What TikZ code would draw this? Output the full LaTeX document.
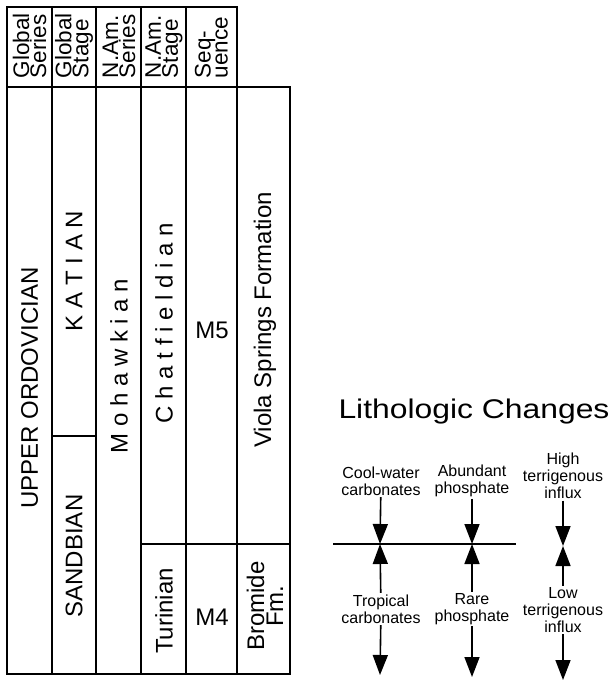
\documentclass[tikz,border=0pt]{standalone}
\usepackage{fontspec}
\setmainfont{Liberation Sans}
\usetikzlibrary{arrows.meta}

\begin{document}
\begin{tikzpicture}[x=1pt, y=-1pt, line width=1.6pt]
    \tikzstyle{every node} = [inner sep=1pt]
    \tikzstyle{big} = [font=\fontsize{24}{24}\selectfont]
    \tikzstyle{head} = [rotate=90, anchor=west, align=left, font=\fontsize{22.5}{17}\selectfont]
    \tikzstyle{small} = [align=center, font=\fontsize{16}{17}\selectfont]
    \tikzstyle{arr} = [-{Triangle[length=20pt, width=15pt]}]

    \useasboundingbox (0,0) rectangle (612,682);

    \draw (7,7) rectangle (237,87);
    \foreach \x in {52, 96, 141, 186} \draw (\x,7) -- (\x,87);
    \draw (7,87) rectangle (290,674);
    \foreach \x in {52, 96, 141, 186, 237} \draw (\x,87) -- (\x,674);
    \draw (52,436) -- (96,436);
    \draw (141,544) -- (290,544);

    \node (a) [head] at (29.5,80) {Global\\Series};
    \node (b) [head] at (74,80) {Global\\Stage};
    \node (c) [head] at (119,80) {N.Am.\\Series};
    \node (d) [head] at (164,80) {N.Am.\\Stage};
    \node (e) [head] at (211.5,80) {Seq-\\uence};

    \node (f) [big, rotate=90] at (29.5,388) {UPPER ORDOVICIAN};
    \node (g) [big, rotate=90] at (74,271) {K A T I A N};
    \node (h) [big, rotate=90] at (74,556) {SANDBIAN};
    \node (i) [big, rotate=90] at (119,366) {M o h a w k i a n};
    \node (j) [big, rotate=90] at (164,323) {C h a t f i e l d i a n};
    \node (k) [big, rotate=90] at (164,611) {Turinian};
    \node (l) [big] at (212,330) {M5};
    \node (m) [big] at (212,617) {M4};
    \node (n) [big, rotate=90] at (265,320) {Viola Springs Formation};
    \node (o) [rotate=90, align=center, font=\fontsize{24}{19}\selectfont] at (265,606) {Bromide\\Fm.};

    \node (p) at (474,412) {\fontsize{27}{27}\selectfont\scalebox{1.18}[1]{Lithologic Changes}};

    \node (q) [small] at (381,481) {Cool-water\\carbonates};
    \node (r) [small] at (472,481) {Abundant\\phosphate};
    \node (s) [small] at (563,476) {High\\terrigenous\\influx};
    \node (t) [small] at (381,609) {Tropical\\carbonates};
    \node (u) [small] at (472,609) {Rare\\phosphate};
    \node (v) [small] at (563,610) {Low\\terrigenous\\influx};

    \coordinate (l1) at (333,544);
    \coordinate (l2) at (516,544);
    \coordinate (t1) at (380,544);
    \coordinate (t2) at (472,544);
    \coordinate (t3) at (563,546);
    \coordinate (b1) at (380,675);
    \coordinate (b2) at (472,677);
    \coordinate (b3) at (563,680);

    \draw (l1) -- (l2);

    \draw [arr] (q) -- (t1);
    \draw [arr] (t) -- (t1);
    \draw [arr] (t) -- (b1);

    \draw [arr] (r) -- (t2);
    \draw [arr] (u) -- (t2);
    \draw [arr] (u) -- (b2);

    \draw [arr] (s) -- (t3);
    \draw [arr] (v) -- (t3);
    \draw [arr] (v) -- (b3);
\end{tikzpicture}
\end{document}
